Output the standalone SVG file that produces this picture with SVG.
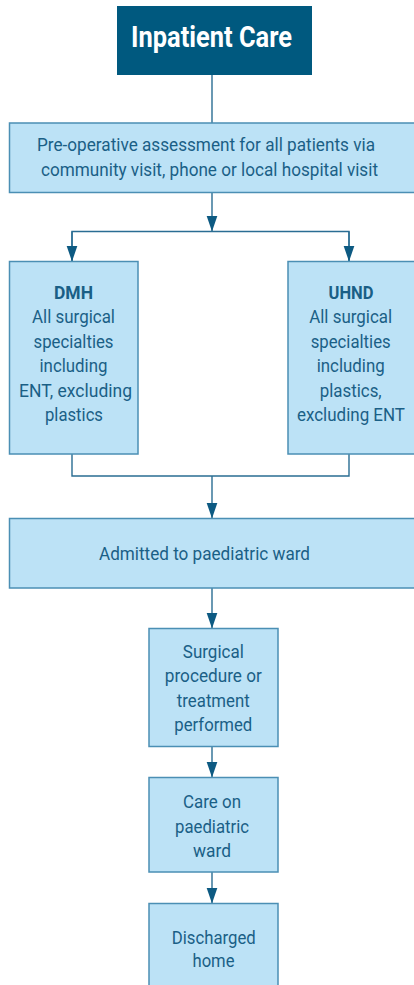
<svg xmlns="http://www.w3.org/2000/svg" width="414" height="985" viewBox="0 0 414 985">
<defs>
<marker id="ah" markerUnits="userSpaceOnUse" markerWidth="18" markerHeight="14" refX="16" refY="6" orient="auto">
<path d="M0,0.5 L16,6 L0,11.5 z" fill="#0d5a82"/>
</marker>
<style>
.box{fill:#bce2f6;stroke:#4b8fb4;stroke-width:1.5}
.t{font-family:Roboto,"Liberation Sans",sans-serif;font-size:19px;fill:#1a5f86;text-anchor:middle}
.b{font-weight:bold}
.c{fill:none;stroke:#2a6d93;stroke-width:1.4}
</style>
</defs>
<rect width="414" height="985" fill="#ffffff"/>
<g id="connectors">
<line class="c" x1="212" y1="75" x2="212" y2="123"/>
<line class="c" x1="212" y1="193" x2="212" y2="231.5" marker-end="url(#ah)"/>
<polyline class="c" points="72,261.5 72,231.5 349,231.5 349,261.5"/>
<line class="c" x1="72" y1="231.5" x2="72" y2="261.5" marker-end="url(#ah)"/>
<line class="c" x1="349" y1="231.5" x2="349" y2="261.5" marker-end="url(#ah)"/>
<polyline class="c" points="72,454 72,476 349,476 349,454"/>
<line class="c" x1="212" y1="476" x2="212" y2="518.5" marker-end="url(#ah)"/>
<line class="c" x1="212" y1="588" x2="212" y2="628.5" marker-end="url(#ah)"/>
<line class="c" x1="212" y1="746.5" x2="212" y2="777.5" marker-end="url(#ah)"/>
<line class="c" x1="212" y1="872" x2="212" y2="903.5" marker-end="url(#ah)"/>
</g>
<g id="title">
<rect x="117" y="6" width="195" height="69" fill="#00597f"/>
<text x="211.5" y="47" font-family="Roboto,'Liberation Sans',sans-serif" font-size="29" font-weight="bold" fill="#ffffff" text-anchor="middle" textLength="161" lengthAdjust="spacingAndGlyphs">Inpatient Care</text>
</g>
<g id="preop">
<rect class="box" x="9.5" y="123" width="410" height="69.5"/>
<text class="t" x="206" y="151" textLength="338" lengthAdjust="spacingAndGlyphs">Pre-operative assessment for all patients via</text>
<text class="t" x="209.5" y="175.5" textLength="337" lengthAdjust="spacingAndGlyphs">community visit, phone or local hospital visit</text>
</g>
<g id="dmh">
<rect class="box" x="9.5" y="261.5" width="128.5" height="192.5"/>
<text class="t b" x="73.5" y="298.5" textLength="39" lengthAdjust="spacingAndGlyphs">DMH</text>
<text class="t" x="73.5" y="323.3" textLength="83" lengthAdjust="spacingAndGlyphs">All surgical</text>
<text class="t" x="73.5" y="347.5" textLength="80" lengthAdjust="spacingAndGlyphs">specialties</text>
<text class="t" x="73.5" y="372" textLength="68" lengthAdjust="spacingAndGlyphs">including</text>
<text class="t" x="75.5" y="396.7" textLength="113" lengthAdjust="spacingAndGlyphs">ENT, excluding</text>
<text class="t" x="74" y="421" textLength="58" lengthAdjust="spacingAndGlyphs">plastics</text>
</g>
<g id="uhnd">
<rect class="box" x="288" y="261.5" width="130" height="192.5"/>
<text class="t b" x="351" y="298.5" textLength="45" lengthAdjust="spacingAndGlyphs">UHND</text>
<text class="t" x="350.7" y="323.3" textLength="83" lengthAdjust="spacingAndGlyphs">All surgical</text>
<text class="t" x="350.7" y="347.5" textLength="80" lengthAdjust="spacingAndGlyphs">specialties</text>
<text class="t" x="350.7" y="372" textLength="68" lengthAdjust="spacingAndGlyphs">including</text>
<text class="t" x="350.7" y="396.7" textLength="62" lengthAdjust="spacingAndGlyphs">plastics,</text>
<text class="t" x="351" y="421" textLength="108" lengthAdjust="spacingAndGlyphs">excluding ENT</text>
</g>
<g id="admitted">
<rect class="box" x="9.5" y="518.5" width="410" height="69.5"/>
<text class="t" x="204.5" y="559.5" textLength="211" lengthAdjust="spacingAndGlyphs">Admitted to paediatric ward</text>
</g>
<g id="surgical">
<rect class="box" x="149" y="628.5" width="129" height="118"/>
<text class="t" x="213.3" y="657.5" textLength="61" lengthAdjust="spacingAndGlyphs">Surgical</text>
<text class="t" x="213.3" y="682" textLength="97" lengthAdjust="spacingAndGlyphs">procedure or</text>
<text class="t" x="213.3" y="706.5" textLength="73" lengthAdjust="spacingAndGlyphs">treatment</text>
<text class="t" x="213.3" y="731" textLength="78" lengthAdjust="spacingAndGlyphs">performed</text>
</g>
<g id="care">
<rect class="box" x="149" y="777.5" width="129" height="94.5"/>
<text class="t" x="212" y="808.3" textLength="58" lengthAdjust="spacingAndGlyphs">Care on</text>
<text class="t" x="212" y="833" textLength="74" lengthAdjust="spacingAndGlyphs">paediatric</text>
<text class="t" x="212" y="857" textLength="38" lengthAdjust="spacingAndGlyphs">ward</text>
</g>
<g id="discharged">
<rect class="box" x="149" y="903.5" width="129" height="100"/>
<text class="t" x="213.8" y="944" textLength="84" lengthAdjust="spacingAndGlyphs">Discharged</text>
<text class="t" x="213.5" y="967" textLength="42" lengthAdjust="spacingAndGlyphs">home</text>
</g>
</svg>
